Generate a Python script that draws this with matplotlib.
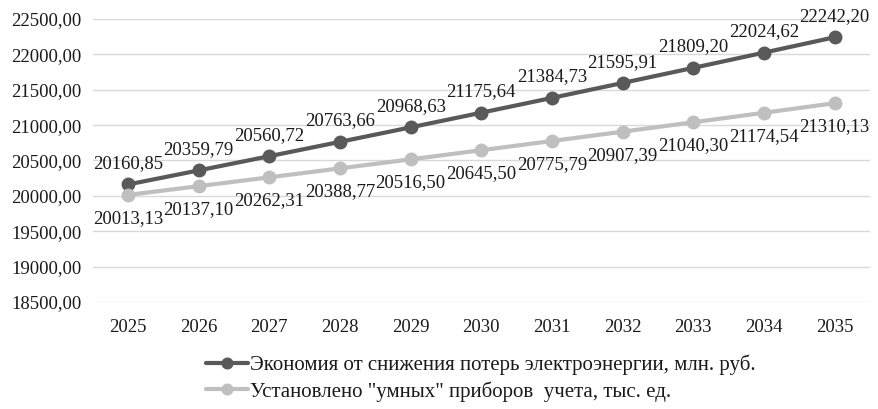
import matplotlib
matplotlib.use("Agg")
import matplotlib.pyplot as plt

years = [2025, 2026, 2027, 2028, 2029, 2030, 2031, 2032, 2033, 2034, 2035]
savings = [20160.85, 20359.79, 20560.72, 20763.66, 20968.63, 21175.64,
           21384.73, 21595.91, 21809.20, 22024.62, 22242.20]
meters = [20013.13, 20137.10, 20262.31, 20388.77, 20516.50, 20645.50,
          20775.79, 20907.39, 21040.30, 21174.54, 21310.13]
y_ticks = [18500, 19000, 19500, 20000, 20500, 21000, 21500, 22000, 22500]
label_savings = "Экономия от снижения потерь электроэнергии, млн. руб."
label_meters = 'Установлено "умных" приборов  учета, тыс. ед.'

plt.rcParams['font.family'] = ['Liberation Serif', 'DejaVu Serif']

def fmt(v):
    return f"{v:.2f}".replace('.', ',')

fig = plt.figure(figsize=(8.79, 4.09), dpi=100)
ax = fig.add_axes([92.6 / 879, 1 - 302 / 409, 777.4 / 879, 283 / 409])

x = list(range(len(years)))
dark = '#595959'
light = '#bfbfbf'
ax.plot(x, savings, color=dark, lw=3, marker='o', ms=9, label=label_savings,
        solid_capstyle='round', zorder=3)
ax.plot(x, meters, color=light, lw=3, marker='o', ms=9, label=label_meters,
        solid_capstyle='round', zorder=3)

for i, v in enumerate(savings):
    ax.annotate(fmt(v), (i, v), xytext=(0, 15), textcoords='offset points',
                ha='center', va='center', fontsize=13.5, color='#1a1a1a')
for i, v in enumerate(meters):
    ax.annotate(fmt(v), (i, v), xytext=(0, -17), textcoords='offset points',
                ha='center', va='center', fontsize=13.5, color='#1a1a1a')

ax.set_xlim(-0.5, len(years) - 0.5)
ax.set_ylim(18500, 22500)
ax.set_yticks(y_ticks)
ax.set_yticklabels([fmt(v) for v in y_ticks], fontsize=13.5, color='#1a1a1a')
ax.set_xticks(x)
ax.set_xticklabels([str(y) for y in years], fontsize=13.5, color='#1a1a1a')
ax.tick_params(length=0)
ax.tick_params(axis='y', pad=8)
ax.tick_params(axis='x', pad=12)
ax.grid(axis='y', color='#d9d9d9', lw=1)
ax.set_axisbelow(True)
for s in ax.spines.values():
    s.set_visible(False)

fig.legend(loc='upper left', bbox_to_anchor=(198 / 879, 1 - 346 / 409),
           frameon=False, fontsize=15, handlelength=2.0, labelspacing=0.3,
           handletextpad=0.1, borderaxespad=0, markerscale=0.85,
           labelcolor='#1a1a1a')

fig.savefig('out.png', dpi=100)
